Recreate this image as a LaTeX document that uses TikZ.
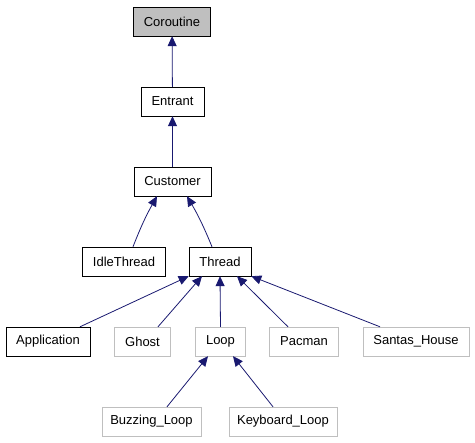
\documentclass[tikz,border=0pt]{standalone}
\usepackage{fontspec}
\setmainfont{Liberation Sans}
\usetikzlibrary{arrows.meta}
\definecolor{edgeBlue}{HTML}{191970}
\definecolor{boxGray}{HTML}{BFBFBF}
\tikzstyle{cS}=[rectangle,minimum height = 29pt,inner xsep = 10.5pt,inner ysep = 0pt,draw, font=\fontsize{13}{15}\selectfont]
\tikzstyle{cG}=[cS,draw=boxGray]
\tikzstyle{cR}=[cS,fill=boxGray]
\tikzstyle{iS}=[draw=edgeBlue,line width=0.8pt,-{Triangle[width=9pt,length=10pt]}]

\begin{document}
\begin{tikzpicture}[x=1pt,y=-1pt]
    \useasboundingbox (0,0) rectangle (475,443);
    \draw (172,21.5) node[cR] (coroutine) {Coroutine};
    \draw (172.5,101.5) node[cS] (entrant) {Entrant};
    \draw (172.5,181.5) node[cS] (customer) {Customer};
    \draw (124,261.5) node[cS] (idle) {IdleThread};
    \draw (220,261.5) node[cS] (thread) {Thread};
    \draw (48,341.5) node[cS] (app) {Application};
    \draw (142.5,341.5) node[cG] (ghost) {Ghost};
    \draw (220.5,341.5) node[cG] (loop) {Loop};
    \draw (304,341.5) node[cG] (pacman) {Pacman};
    \draw (416,341.5) node[cG] (santa) {Santas\_House};
    \draw (151.5,421.5) node[cG,inner xsep=8pt] (buzz) {Buzzing\_Loop};
    \draw (283,421.5) node[cG,inner xsep=8pt] (kbd) {Keyboard\_Loop};
    \path
        (entrant) edge[iS] (coroutine)
        (customer) edge[iS] (entrant)
        ([xshift=9pt]idle.north) edge[iS, bend left=4] ([xshift=-15.5pt]customer.south)
        ([xshift=-8pt]thread.north) edge[iS, bend right=4] ([xshift=14.5pt]customer.south)
        ([xshift=32pt]app.north) edge[iS] (thread.south west)
        ([xshift=15.5pt]ghost.north) edge[iS] ([xshift=-18pt]thread.south)
        (loop.north) edge[iS] (thread.south)
        ([xshift=-16pt]pacman.north) edge[iS] ([xshift=17pt]thread.south)
        ([xshift=-36pt]santa.north) edge[iS] (thread.south east)
        ([xshift=15.5pt]buzz.north) edge[iS] ([xshift=-12.5pt]loop.south)
        ([xshift=-10pt]kbd.north) edge[iS] ([xshift=12.5pt]loop.south)
    ;
\end{tikzpicture}
\end{document}
